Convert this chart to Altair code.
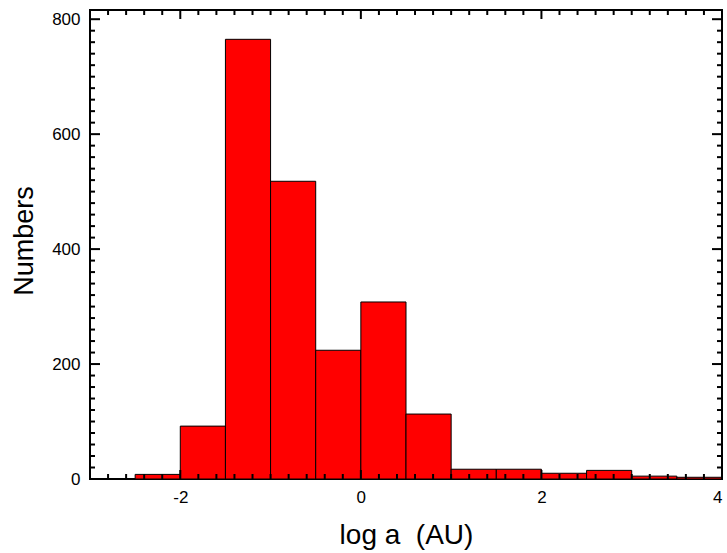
import altair as alt
import pandas as pd
import numpy as np

# Histogram data
bin_start = [-2.5, -2.0, -1.5, -1.0, -0.5, 0.0, 0.5, 1.0, 1.5, 2.0, 2.5, 3.0, 3.5]
bin_end = [-2.0, -1.5, -1.0, -0.5, 0.0, 0.5, 1.0, 1.5, 2.0, 2.5, 3.0, 3.5, 4.0]
counts = [8, 92, 765, 518, 224, 308, 113, 17, 17, 10, 15, 5, 3]

x_labels = [-2, 0, 2, 4]
y_labels = [0, 200, 400, 600, 800]

X_DOMAIN = [-3, 4]
Y_DOMAIN = [0, 816]
W, H = 632, 469
FONT = "Liberation Sans"

df = pd.DataFrame({"start": bin_start, "end": bin_end, "count": counts})

# tick positions (axis decoration)
x_minor = [round(float(v), 2) for v in np.arange(-2.8, 4.0, 0.2) if round(float(v), 2) not in x_labels]
x_major = x_labels
y_minor = [v for v in range(20, 816, 20) if v not in y_labels]
y_major = [v for v in y_labels if v > 0]

xs = alt.Scale(domain=X_DOMAIN, nice=False, zero=False)
ys = alt.Scale(domain=Y_DOMAIN, nice=False, zero=False)

bars = alt.Chart(df).mark_bar(color="#ff0000", stroke="black", strokeWidth=1).encode(
    x=alt.X("start:Q", scale=xs,
            axis=alt.Axis(values=x_labels, title="log a\u00a0\u00a0(AU)", ticks=False, domain=False,
                          grid=False, labelFont=FONT, labelFontSize=17, labelColor="black",
                          labelPadding=10, labelExpr="'' + datum.value",
                          titleFont=FONT, titleFontSize=28, titleFontWeight="normal",
                          titleColor="black", titleX=W / 2, titleY=64,
                          titleBaseline="alphabetic")),
    x2="end:Q",
    y=alt.Y("count:Q", scale=ys,
            axis=alt.Axis(values=y_labels, title="Numbers", ticks=False, domain=False,
                          grid=False, labelFont=FONT, labelFontSize=17, labelColor="black",
                          labelPadding=10,
                          titleFont=FONT, titleFontSize=27, titleFontWeight="normal",
                          titleColor="black", titleX=-58, titleY=H / 2 - 4,
                          titleBaseline="alphabetic", titleAlign="center")),
    y2=alt.datum(0),
)

def xticks(vals, length, name):
    d = pd.DataFrame({name: vals})
    bottom = alt.Chart(d).mark_rule(color="black", strokeWidth=2).encode(
        x=alt.X(f"{name}:Q", scale=xs), y=alt.value(H), y2=alt.value(H - length))
    top = alt.Chart(d).mark_rule(color="black", strokeWidth=2).encode(
        x=alt.X(f"{name}:Q", scale=xs), y=alt.value(0), y2=alt.value(length))
    return [bottom, top]

def yticks(vals, length, name):
    d = pd.DataFrame({name: vals})
    left = alt.Chart(d).mark_rule(color="black", strokeWidth=2).encode(
        y=alt.Y(f"{name}:Q", scale=ys), x=alt.value(0), x2=alt.value(length))
    right = alt.Chart(d).mark_rule(color="black", strokeWidth=2).encode(
        y=alt.Y(f"{name}:Q", scale=ys), x=alt.value(W), x2=alt.value(W - length))
    return [left, right]

layers = ([bars] + xticks(x_minor, 5, "xm") + xticks(x_major, 9, "xM")
          + yticks(y_minor, 5, "ym") + yticks(y_major, 10, "yM"))

chart = alt.layer(*layers).properties(
    width=W, height=H,
    background="white",
    autosize=alt.AutoSizeParams(type="none"),
    padding={"left": 90, "top": 10, "right": 5, "bottom": 74},
).configure_view(
    stroke="#000000", strokeWidth=2
)

chart.save("out.html", embed_options={"renderer": "svg", "actions": False})
